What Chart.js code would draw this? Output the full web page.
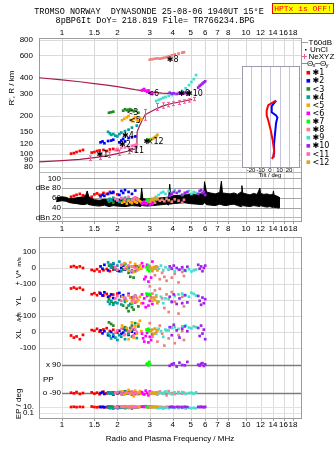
<!DOCTYPE html>
<html><head><meta charset="utf-8">
<script src="https://cdn.jsdelivr.net/npm/chart.js@4.4.1/dist/chart.umd.min.js"></script>
<style>
html,body{margin:0;padding:0;background:#fff;}
#wrap{position:relative;width:335px;height:451px;overflow:hidden;background:#fff;}
canvas{position:absolute;left:0;top:0;}
.hdr{position:absolute;font:8.5px "Liberation Mono",monospace;color:#000;white-space:pre;text-align:center;line-height:10px;}
#hptx{position:absolute;left:272px;top:3px;width:60px;height:9px;background:#ffff00;border:1px solid #ff0000;color:#ff0000;font:8px "Liberation Mono",monospace;line-height:9px;text-align:center;white-space:pre;overflow:hidden;}
</style></head>
<body><div id="wrap">
<canvas id="c" width="335" height="451"></canvas>
<div class="hdr" style="left:0;top:7px;width:298px">TROMSO NORWAY  DYNASONDE 25-08-06 1940UT 15°E</div>
<div class="hdr" style="left:0;top:16px;width:310px">8pBP6It DoY= 218.819 File= TR766234.BPG</div>
<div id="hptx">HPTx is OFF!</div>
</div>
<script>
// ---------------- DATA ----------------
const freqTicks = [1,1.5,2,3,4,5,6,7,8,10,12,14,16,18];
const freqTickLabels = ['1','1.5','2','3','4','5','6','7','8','10','12','14','16','18'];
const rangeTicks = [800,600,400,300,200,150,120,100,90,80];
const ampTicks = [100,80,60,40,20];
const ampTickLabels = ['100','dBe 80','60','40','dBn 20'];
const driftTicks = [100,0,-100];
const tiltTicks = [-20,-10,0,10,20];

const seriesNames = ['✱1','✱2','<3','✱4','<5','<6','✱7','✱8','✱9','✱10','<11','<12'];
const seriesColors = ['#ff0000','#0000ff','#228b22','#00a0a0','#ffa500','#ff00ff','#00ff00','#f08080','#40e0d0','#a020f0','#ff69b4','#daa520'];

// echo frequencies (MHz) per series
const echoF = [
 [1.12,1.16,1.2,1.25,1.3,1.45,1.5,1.55,1.6,1.68,1.75,1.82,1.9,2.0],
 [1.62,1.66,1.7,1.78,1.85,1.9,2.05,2.1,2.15,2.2,2.3,2.4,2.5],
 [1.8,1.85,1.9,2.15,2.2,2.25,2.3,2.35,2.4,2.45,2.5,2.6],
 [1.78,1.82,1.85,1.9,1.95,2.0,2.05,2.1,2.2,2.3,2.4,2.55],
 [2.12,2.18,2.25,2.3,2.35,2.4,2.45,2.5,2.55,2.6,2.65,2.7],
 [2.72,2.76,2.8,2.85,2.9,2.95,3.0,3.05,3.1],
 [2.88,2.92,2.95,2.98,3.02],
 [3.0,3.1,3.2,3.3,3.4,3.5,3.6,3.7,3.8,3.95,4.1,4.3,4.5,4.6],
 [3.25,3.35,3.45,3.55,3.65,3.8,3.95,4.1,4.3,4.5,4.7,4.9,5.05,5.2,5.35],
 [3.85,3.95,4.05,4.2,4.35,4.5,4.65,4.8,5.5,5.6,5.7,5.8,5.9,6.0],
 [1.95,2.0,2.1,2.2,2.3,2.4,2.45,2.5,2.55],
 [3.05,3.1,3.15,3.2,3.25,3.3]
];
// virtual range R' (km)
const echoR = [
 [101,102,104,106,108,103,104,106,107,108,106,109,110,108],
 [124,126,122,127,128,130,124,128,132,126,134,136,138],
 [212,214,216,220,226,222,224,226,222,218,220,212],
 [150,146,142,144,140,138,144,148,152,156,162,168],
 [185,190,195,200,186,182,190,196,186,182,192,188],
 [318,322,326,316,310,318,305,298,300],
 [128,129,130,128,131],
 [555,560,565,568,565,570,575,580,590,600,610,620,630,635],
 [262,268,272,278,282,288,292,298,305,315,330,350,370,390,420],
 [305,300,302,298,302,300,305,303,335,345,352,360,368,375],
 [108,110,112,113,114,116,117,118,120],
 [130,132,134,136,138,142]
];
// amplitude (dBe)
const echoAmp = [
 [62,64,66,68,65,62,67,69,66,70,68,72,70,67],
 [63,66,64,68,70,72,66,74,70,76,72,68,75],
 [52,54,50,56,58,53,55,57,52,54,58,55],
 [56,58,54,60,57,55,52,58,60,56,54,59],
 [50,52,48,54,51,49,55,52,50,56,53,51],
 [48,50,52,47,49,51,46,50,48],
 [54,56,52,55,53],
 [52,55,50,57,54,56,53,58,55,52,57,54,50,56],
 [62,66,70,72,68,74,70,76,72,66,70,74,68,72,70],
 [64,68,72,70,74,66,70,72,68,74,76,70,72,66],
 [58,55,60,57,62,56,59,61,57],
 [56,58,55,60,57,59]
];
// V* (m/s)
const echoV = [
 [8,12,4,10,0,-12,-18,-8,-22,-14,-6,-20,-10,-16],
 [10,-5,20,-15,5,25,-20,0,15,-10,8,-25,12],
 [15,20,5,-10,25,0,-30,-55,10,-60,-20,5],
 [35,20,5,30,-10,15,40,-20,25,0,-15,10],
 [20,30,5,-15,35,10,-25,25,0,-10,15,-5],
 [30,10,-70,-55,20,-85,0,-60,40],
 [5,-10,15,-20,0],
 [10,-20,-45,5,-70,-30,-55,-80,-10,-60,-35,-90,-25,-50],
 [10,-5,15,-15,5,-10,0,-20,-12,-5,-18,-8,-22,-15,-10],
 [10,-5,15,0,-10,5,-15,8,20,-5,10,-20,0,15],
 [5,-10,20,-5,15,-20,10,0,-15],
 [0,-10,5,-5,10,-15]
];
// YL (km)
const echoYL = [
 [72,78,70,76,64,36,42,30,46,28,38,24,34,40],
 [40,28,48,20,35,12,44,22,30,8,38,16,26],
 [5,-10,-20,-35,0,-50,-70,-25,-45,-60,-15,-40],
 [-10,-25,-5,-30,-15,-20,0,-28,-12,-35,-22,-8],
 [20,10,-5,30,15,-15,5,25,-10,0,20,-20],
 [35,-20,10,-45,25,-35,-5,15,-25],
 [40,35,30,38,32],
 [85,40,60,-20,70,10,-50,35,-75,50,-10,-85,20,-40],
 [30,-10,20,-20,10,5,-15,25,35,40,30,20,45,38,28],
 [20,-10,35,-25,10,-20,30,-15,25,-5,-30,15,-20,5],
 [10,25,-5,15,30,0,20,-10,12],
 [10,-5,15,0,20,-10]
];
// XL (km)
const echoXL = [
 [-22,-35,-28,-45,-18,12,8,20,2,16,24,6,14,-4],
 [10,-8,5,-20,0,-28,8,-12,-4,12,-18,2,-10],
 [60,50,40,20,30,10,-5,25,40,15,55,35],
 [-10,-25,-40,-15,-35,-50,-20,-30,-45,-12,-28,-38],
 [40,-20,25,-45,10,60,-35,35,-10,50,70,5],
 [-10,-40,-60,-25,-5,-65,-30,-50,-15],
 [15,10,20,5,12],
 [55,-30,20,-60,40,-10,-85,10,-40,30,-70,-20,5,-50],
 [-10,20,5,-30,15,10,25,30,20,35,40,28,22,35,30],
 [30,-20,45,10,-35,20,35,5,25,-25,40,-10,15,-45],
 [-5,10,20,-15,5,25,-20,15,0],
 [5,15,-10,20,0,10]
];
// polarization PP (deg)
const echoPP = [
 [-88,-92,-84,-96,-90,-86,-94,-88,-98,-82,-92,-90,-86,-94],
 [-90,-84,-96,-88,-92,-100,-86,-90,-94,-80,-92,-88,-96],
 [-88,-92,-86,-98,-80,-94,-90,-84,-100,-88,-92,-96],
 [-90,-94,-86,-96,-88,-92,-84,-98,-90,-86,-94,-88],
 [-80,-100,-90,-70,-95,-85,-110,-75,-92,-88,-78,-96],
 [-85,-95,-100,-75,-90,-105,-80,-92,-88],
 [95,100,88,110,92],
 [-90,-85,-95,-100,-80,-92,-88,-105,-78,-90,-96,-84,-94,-88],
 [-85,-92,-88,-95,-80,-90,-98,-86,-92,-84,-96,-90,-88,-94,-86],
 [85,95,100,80,105,90,88,110,92,86,98,102,84,94],
 [-90,-85,-95,-88,-92,-80,-98,-86,-94],
 [-90,-85,-95,-88,-92,-86]
];
// EP (deg, log axis)
const echoEP = [
 [10,12,9,11,10,14,10,8,12,10,9,11,10,13],
 [9,11,8,12,10,6,10,9,11,7,10,12,8],
 [10,12,9,8,11,10,7,12,9,10,11,8],
 [6,4,5,3,6,4,5,7,4,5,3,6],
 [14,10,18,8,12,20,10,15,9,12,16,11],
 [12,15,10,18,11,9,14,10,12],
 [10,12,9,11,10],
 [10,8,12,9,11,10,7,12,9,11,8,10,12,9],
 [5,4,6,3,5,4,6,5,4,5,3,6,4,5,4],
 [10,12,9,11,10,8,12,10,11,9,12,10,8,11],
 [10,9,11,12,10,8,11,10,9],
 [10,12,9,11,10,12]
];

// unclassified echo amplitude envelope (dBe)
const bandF  = [0.93,1.0,1.05,1.1,1.2,1.3,1.35,1.37,1.4,1.5,1.6,1.7,1.8,1.9,2.0,2.2,2.4,2.6,2.68,2.71,2.75,2.9,3.1,3.3,3.5,3.7,3.8,3.85,3.9,4.0,4.3,4.6,5.0,5.4,5.8,5.9,5.95,6.1,6.4,6.8,7.2,7.35,7.45,7.8,8.2,8.6,9.0,9.4,9.5,9.6,10,10.5,11,11.5,11.9,12.0,12.5,13,13.5,14,14.1,14.2,14.6,15.0,15.3];
const bandHi = [60,62,61,58,60,62,66,74,62,56,55,57,55,58,56,57,58,56,60,80,58,57,58,59,60,61,62,88,63,64,65,66,68,67,69,70,93,72,70,68,71,94,70,69,68,70,67,72,85,70,68,66,69,67,80,69,67,68,66,67,74,66,64,62,60];
const bandLo = [52,54,53,50,48,46,47,48,46,44,43,45,42,44,43,42,44,43,42,45,44,43,44,45,46,47,45,48,47,48,49,50,48,47,46,48,50,46,45,44,47,46,45,44,46,47,44,42,45,44,43,42,44,43,42,44,42,41,42,40,41,40,40,39,40];

// profile lines (km)
const upperLineF = [0.75,1,1.25,1.5,1.75,2,2.5,3,3.5,4,4.5,4.9];
const upperLineR = [400,385,372,360,350,340,322,310,303,300,299,300];
const trueHeightF = [0.75,1,1.25,1.5,1.75,2,2.3,2.5,2.55,2.56,2.65,2.83,3.2,3.54,4.0,4.5,5.1];
const trueHeightR = [87,89,91,94,97,101,106,110,112,150,170,205,225,240,252,260,270];
// NeXYZ points with half error (km)
const neF = [1.42,1.6,1.8,2.05,2.3,2.48,2.82,3.3,3.55,3.75,4.0,4.3,4.6,4.9,5.2];
const neR = [93,96,99,103,106,109,205,236,242,246,250,255,260,265,272];
const neErr = [4,5,5,5,5,5,20,15,12,10,9,9,8,8,8];

// tilt profile
const tiltXR = [264,243,221,202,184,154,128,107,95,92];
const tiltX  = [6.4,-1.8,-3.5,-3.5,-1.8,0.8,2.9,4.3,3.5,1.8];
const tiltYR = [264,239,214,202,195,176,148,122,103,94];
const tiltY  = [6.4,1.8,1.8,6.4,7.8,6.4,5.4,4.3,4.3,3.5];

// echo annotations
const annF = [1.6,2.12,2.33,2.2,2.4,3.02,2.88,3.85,4.45,4.9,2.35,3.0];
const annR = [99,118,210,140,183,296,124,548,297,300,106,124];
const annText = ['✱1','✱2','<3','✱4','<5','<6','✱','✱8','✱9','✱10','<11','×12'];

// ---------------- LAYOUT ----------------
const CA_L=39, CA_R=302, CA_T=38, CA_B=419;
function rLinY(v1,p1,v2,p2){const k=(v2-v1)/(p2-p1);return {min:v1+(CA_B-p1)*k,max:v1+(CA_T-p1)*k};}
function rLogY(v1,p1,v2,p2){const r=rLinY(Math.log10(v1),p1,Math.log10(v2),p2);return {min:Math.pow(10,r.min),max:Math.pow(10,r.max)};}
function rLinX(v1,p1,v2,p2){const k=(v2-v1)/(p2-p1);return {min:v1+(CA_L-p1)*k,max:v1+(CA_R-p1)*k};}
function rLogX(v1,p1,v2,p2){const r=rLinX(Math.log10(v1),p1,Math.log10(v2),p2);return {min:Math.pow(10,r.min),max:Math.pow(10,r.max)};}
const rx = rLogX(1,62,10,246);
const rT = rLinX(-20,251,20,289);
const rR = rLogY(800,39.5,80,166.5);
const rA = rLinY(100,178.3,20,217.3);
const rV = rLinY(100,252,-100,284);
const rY = rLinY(100,284,-100,316);
const rX = rLinY(100,316,-100,348);
const rP = rLinY(90,365,-90,393);
const rE = rLogY(10,407,0.1,413);

function pts(xs,ys){return xs.map((x,i)=>({x:x,y:ys[i]}));}
const datasets=[];
datasets.push({data:pts(bandF,bandLo),yAxisID:'yA',showLine:true,borderColor:'#000',borderWidth:1,pointRadius:0,fill:false,order:100});
datasets.push({data:pts(bandF,bandHi),yAxisID:'yA',showLine:true,borderColor:'#000',borderWidth:1,pointRadius:0,fill:'-1',backgroundColor:'#000',order:99});
datasets.push({data:pts(upperLineF,upperLineR),yAxisID:'yR',showLine:true,borderColor:'#a81c50',borderWidth:1.2,pointRadius:0,order:60});
datasets.push({data:pts(trueHeightF,trueHeightR),yAxisID:'yR',showLine:true,borderColor:'#a81c50',borderWidth:1.2,pointRadius:0,order:60});
const qty=[['yR',echoR],['yA',echoAmp],['yV',echoV],['yY',echoYL],['yX',echoXL],['yP',echoPP],['yE',echoEP]];
for(let i=0;i<12;i++){
  for(const [ax,arr] of qty){
    datasets.push({data:pts(echoF[i],arr[i]),yAxisID:ax,backgroundColor:seriesColors[i],borderColor:seriesColors[i],pointStyle:'rect',pointRadius:1.9,pointBorderWidth:0,pointHoverRadius:1.9,showLine:false,order:30-i});
  }
}
datasets.push({data:pts(tiltY,tiltYR),xAxisID:'xT',yAxisID:'yR',showLine:true,borderColor:'#0000ff',borderWidth:2,pointRadius:0,order:3});
datasets.push({data:pts(tiltX,tiltXR),xAxisID:'xT',yAxisID:'yR',showLine:true,borderColor:'#ff0000',borderWidth:2,pointRadius:0,order:2});

// ---------------- DRAWING HELPERS ----------------
function hl(ctx,x1,x2,y,c,w){ctx.strokeStyle=c;ctx.lineWidth=w||1;const yy=Math.round(y)+0.5;ctx.beginPath();ctx.moveTo(x1,yy);ctx.lineTo(x2,yy);ctx.stroke();}
function vl(ctx,x,y1,y2,c,w){ctx.strokeStyle=c;ctx.lineWidth=w||1;const xx=Math.round(x)+0.5;ctx.beginPath();ctx.moveTo(xx,y1);ctx.lineTo(xx,y2);ctx.stroke();}
function tx(ctx,s,x,y,font,align,col){ctx.font=font;ctx.textAlign=align||'left';ctx.textBaseline='middle';ctx.fillStyle=col||'#000';ctx.fillText(s,x,y);}
function vtx(ctx,s,x,y,font){ctx.save();ctx.translate(x,y);ctx.rotate(-Math.PI/2);tx(ctx,s,0,0,font,'center');ctx.restore();}
const FT='8px "Liberation Sans", Arial, sans-serif';
const FB='8px "Liberation Sans", Arial, sans-serif';
const FS='6px "Liberation Sans", Arial, sans-serif';
const FD='8px "DejaVu Sans", sans-serif';

const INSET={top:66,bottom:167};
const UP={top:38,bottom:221,sep:172};
const LO={top:237,bottom:419};

const ink={
 id:'ink',
 beforeDatasetsDraw(chart){
  const ctx=chart.ctx,s=chart.scales;ctx.save();
  const X=f=>s.x.getPixelForValue(f);
  freqTicks.forEach(f=>{vl(ctx,X(f),UP.top,UP.bottom,'#d8d8d8');vl(ctx,X(f),LO.top,LO.bottom,'#dcdcdc');});
  rangeTicks.forEach(v=>hl(ctx,CA_L,CA_R,s.yR.getPixelForValue(v),'#dadada'));
  hl(ctx,CA_L,CA_R,UP.sep,'#b8b8b8');
  ampTicks.forEach(v=>hl(ctx,62,CA_R,s.yA.getPixelForValue(v),v===20?'#b4b4ec':'#a4a4a4'));
  ['yV','yY','yX'].forEach(id=>driftTicks.forEach(v=>hl(ctx,CA_L,CA_R,s[id].getPixelForValue(v),'#dcdcdc')));
  [90,-90].forEach(v=>hl(ctx,62,CA_R,s.yP.getPixelForValue(v),'#7c7c7c',1.5));
  [10,0.1].forEach(v=>hl(ctx,CA_L,CA_R,s.yE.getPixelForValue(v),'#e2e2e2'));
  ctx.strokeStyle='#9c9c9c';ctx.lineWidth=1;
  ctx.strokeRect(CA_L+0.5,UP.top+0.5,CA_R-CA_L-1,UP.bottom-UP.top);
  ctx.strokeRect(CA_L+0.5,LO.top+0.5,CA_R-CA_L-1,LO.bottom-LO.top-1);
  freqTicks.forEach(f=>{vl(ctx,X(f),UP.bottom,UP.bottom+3,'#9c9c9c');vl(ctx,X(f),LO.bottom-1,LO.bottom+2,'#9c9c9c');});
  const l=s.xT.getPixelForValue(-30),r=s.xT.getPixelForValue(30);
  ctx.fillStyle='#ffffff';ctx.fillRect(l,INSET.top,r-l,INSET.bottom-INSET.top);
  tiltTicks.forEach(t=>vl(ctx,s.xT.getPixelForValue(t),INSET.top,INSET.bottom,'#c4c4d8'));
  ctx.strokeStyle='#9a9aac';ctx.strokeRect(Math.round(l)+0.5,INSET.top+0.5,Math.round(r-l),INSET.bottom-INSET.top);
  ctx.restore();
 },
 afterDatasetsDraw(chart){
  const ctx=chart.ctx,s=chart.scales;ctx.save();
  const X=f=>s.x.getPixelForValue(f);
  ctx.strokeStyle='#ec5a98';ctx.lineWidth=1;
  neF.forEach((f,i)=>{const x=Math.round(X(f))+0.5,y1=s.yR.getPixelForValue(neR[i]+neErr[i]),y2=s.yR.getPixelForValue(neR[i]-neErr[i]);
    ctx.beginPath();ctx.moveTo(x,y1);ctx.lineTo(x,y2);ctx.moveTo(x-1.5,y1);ctx.lineTo(x+1.5,y1);ctx.moveTo(x-1.5,y2);ctx.lineTo(x+1.5,y2);ctx.stroke();});
  annF.forEach((f,i)=>tx(ctx,annText[i],X(f)-3,s.yR.getPixelForValue(annR[i]),FD,'left','#000'));
  freqTicks.forEach((f,i)=>{[33,229,425].forEach(y=>tx(ctx,freqTickLabels[i],X(f),y,FB,'center'));});
  rangeTicks.forEach(v=>tx(ctx,String(v),33,s.yR.getPixelForValue(v),FB,'right'));
  vtx(ctx,"R', R / km",12,88,FB);
  ampTicks.forEach((v,i)=>tx(ctx,ampTickLabels[i],61,s.yA.getPixelForValue(v),FB,'right'));
  const dl=[['yV',100,'100'],['yV',0,'0'],['yV',-100,'+-100'],['yY',0,'0'],['yY',-100,'+-100'],['yX',0,'0'],['yX',-100,'-100']];
  dl.forEach(([id,v,t])=>tx(ctx,t,36,s[id].getPixelForValue(v),FB,'right'));
  vtx(ctx,'V*',19,274,FB);vtx(ctx,'m/s',19,262,FS);
  vtx(ctx,'YL',19,301,FB);vtx(ctx,'/km',19,317,FS);vtx(ctx,'XL',19,334,FB);
  tx(ctx,'x 90',61,s.yP.getPixelForValue(90),FB,'right');
  tx(ctx,'o -90',61,s.yP.getPixelForValue(-90),FB,'right');
  tx(ctx,'PP',43,380,FB,'left');
  tx(ctx,'10.',34,s.yE.getPixelForValue(10),FB,'right');
  tx(ctx,'0.1',34,s.yE.getPixelForValue(0.1),FB,'right');
  vtx(ctx,'EP / deg',19,404,FB);
  tx(ctx,'Radio and Plasma Frequency / MHz',170,439,FB,'center');
  tiltTicks.forEach(t=>tx(ctx,String(t),s.xT.getPixelForValue(t),170.5,FS,'center'));
  tx(ctx,'Tilt / deg',270,175.5,FS,'center');
  hl(ctx,302,308,42,'#a0a0a0');tx(ctx,'T60dB',308.5,42.5,FT,'left');
  ctx.fillStyle='#000';ctx.fillRect(305,49,1.5,1.5);tx(ctx,'UnCl',310,49.5,FT,'left');
  ctx.strokeStyle='#ec5a98';ctx.lineWidth=1;ctx.beginPath();ctx.moveTo(302,56.5);ctx.lineTo(307,56.5);ctx.moveTo(304.5,54);ctx.lineTo(304.5,59);ctx.stroke();
  tx(ctx,'NeXYZ',308.5,56.5,FT,'left');
  hl(ctx,302,307,63,'#f06060');tx(ctx,'Θ',307,63.5,FT,'left');tx(ctx,'x',312.5,65,FS,'left');
  hl(ctx,315,320,63,'#6060f0');tx(ctx,'Θ',320,63.5,FT,'left');tx(ctx,'y',325.5,65,FS,'left');
  seriesNames.forEach((n,i)=>{const y=72.7+i*8.13;ctx.fillStyle=seriesColors[i];ctx.fillRect(306.5,y-1.8,3.6,3.6);tx(ctx,n,312.5,y+0.5,FD,'left','#000');});
  ctx.restore();
 }
};

new Chart(document.getElementById('c'),{
 type:'scatter',
 data:{datasets:datasets},
 options:{
  responsive:false,animation:false,devicePixelRatio:1,
  layout:{padding:{left:CA_L,right:335-CA_R,top:CA_T,bottom:451-CA_B}},
  plugins:{legend:{display:false},tooltip:{enabled:false}},
  events:[],
  scales:{
   x:{type:'logarithmic',display:false,min:rx.min,max:rx.max,bounds:'data'},
   xT:{type:'linear',axis:'x',display:false,min:rT.min,max:rT.max,bounds:'data'},
   yR:{type:'logarithmic',axis:'y',display:false,min:rR.min,max:rR.max,bounds:'data'},
   yA:{type:'linear',axis:'y',display:false,min:rA.min,max:rA.max,bounds:'data'},
   yV:{type:'linear',axis:'y',display:false,min:rV.min,max:rV.max,bounds:'data'},
   yY:{type:'linear',axis:'y',display:false,min:rY.min,max:rY.max,bounds:'data'},
   yX:{type:'linear',axis:'y',display:false,min:rX.min,max:rX.max,bounds:'data'},
   yP:{type:'linear',axis:'y',display:false,min:rP.min,max:rP.max,bounds:'data'},
   yE:{type:'logarithmic',axis:'y',display:false,min:rE.min,max:rE.max,bounds:'data'}
  }
 },
 plugins:[ink]
});
</script></body></html>
